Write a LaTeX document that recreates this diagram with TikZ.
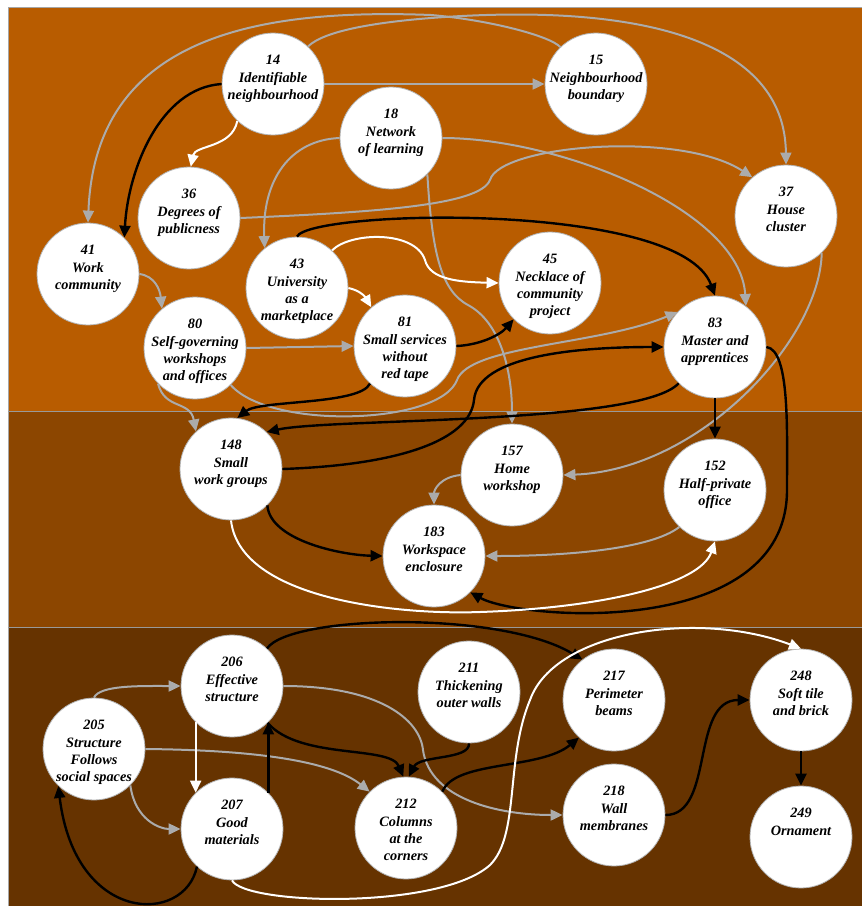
\documentclass[tikz,border=0pt]{standalone}
\usepackage{fontspec}
\setmainfont{Liberation Serif}
\usetikzlibrary{arrows.meta}
\definecolor{bandtop}{HTML}{B85C00}
\definecolor{bandmid}{HTML}{8C4600}
\definecolor{bandlow}{HTML}{663300}
\definecolor{linkgray}{HTML}{ABABAB}
\newcommand{\pttext}[2]{\makebox[0pt]{\raisebox{19.3pt}[0pt][0pt]{\parbox[t]{110pt}{\centering #1\\#2}}}}

\begin{document}
\begin{tikzpicture}[x=1pt,y=-1pt,
    pnode/.style={circle,fill=white,draw=gray!60,line width=0.8pt,minimum size=102pt,inner sep=0pt,
                  font=\fontsize{14.3}{17.4}\selectfont\bfseries\itshape},
    glink/.style={draw=linkgray,line width=2pt,-{Triangle[length=12pt,width=11pt]}},
    blink/.style={draw=black,line width=2.4pt,-{Triangle[length=12pt,width=11pt]}},
    wlink/.style={draw=white,line width=2pt,-{Triangle[length=12pt,width=11pt]}}]
                    \useasboundingbox (0,0) rectangle (862,906);
                    % the three bands
                    \fill[bandtop] (8,7)   rectangle (862,411);
                    \fill[bandmid] (8,411) rectangle (862,627);
                    \fill[bandlow] (8,627) rectangle (862,906);
                    \draw[gray!70,line width=0.7pt] (8,906) -- (8,7) -- (862,7);
                    \draw[gray!80,line width=0.6pt] (8,411) -- (862,411);
                    \draw[gray!80,line width=0.6pt] (8,627) -- (862,627);
                    % top band patterns
                    \node[pnode] at (273,84)  (n14)  {\pttext{14}{Identifiable\\neighbourhood}};
                    \node[pnode] at (596,84)  (n15)  {\pttext{15}{Neighbourhood\\boundary}};
                    \node[pnode] at (391,138) (n18)  {\pttext{18}{Network\\of learning}};
                    \node[pnode] at (189,218) (n36)  {\pttext{36}{Degrees of\\publicness}};
                    \node[pnode] at (786,216) (n37)  {\pttext{37}{House\\cluster}};
                    \node[pnode] at (88,274)  (n41)  {\pttext{41}{Work\\community}};
                    \node[pnode] at (297,288) (n43)  {\pttext{43}{University\\as a\\marketplace}};
                    \node[pnode] at (550,283) (n45)  {\pttext{45}{Necklace of\\community\\project}};
                    \node[pnode] at (195,348) (n80)  {\pttext{80}{Self-governing\\workshops\\and offices}};
                    \node[pnode] at (405,346) (n81)  {\pttext{81}{Small services\\without\\red tape}};
                    \node[pnode] at (715,347) (n83)  {\pttext{83}{Master and\\apprentices}};
                    % middle band patterns
                    \node[pnode] at (231,469) (n148) {\pttext{148}{Small\\work groups}};
                    \node[pnode] at (512,475) (n157) {\pttext{157}{Home\\workshop}};
                    \node[pnode] at (715,490) (n152) {\pttext{152}{Half-private\\office}};
                    \node[pnode] at (434,556) (n183) {\pttext{183}{Workspace\\enclosure}};
                    % bottom band patterns
                    \node[pnode] at (94,749)  (n205) {\pttext{205}{Structure\\Follows\\social spaces}};
                    \node[pnode] at (232,686) (n206) {\pttext{206}{Effective\\structure}};
                    \node[pnode] at (232,829) (n207) {\pttext{207}{Good\\materials}};
                    \node[pnode] at (469,692) (n211) {\pttext{211}{Thickening\\outer walls}};
                    \node[pnode] at (406,828) (n212) {\pttext{212}{Columns\\at the\\corners}};
                    \node[pnode] at (614,700) (n217) {\pttext{217}{Perimeter\\beams}};
                    \node[pnode] at (614,815) (n218) {\pttext{218}{Wall\\membranes}};
                    \node[pnode] at (801,700) (n248) {\pttext{248}{Soft tile\\and brick}};
                    \node[pnode] at (801,837) (n249) {\pttext{249}{Ornament}};
                    % gray links, top band
                    \draw[glink] (n15.134) .. controls (550,36) and (490,20) .. (431,15)
                                 .. controls (250,8) and (95,40) .. (n41.north);
                    \draw[glink] (n14.47) .. controls (325,30) and (380,22) .. (431,18)
                                 .. controls (640,2) and (785,40) .. (n37.north);
                    \draw[glink] (n14.east) -- (n15.west);
                    \draw[glink] (n18.west) .. controls (290,140) and (262,180) .. (n43.129);
                    \draw[glink] (n18.east) .. controls (560,138) and (740,210) .. (n83.53);
                    \draw[glink] (n18.-45) .. controls (432,250) and (440,290) .. (468,305)
                                 .. controls (500,322) and (512,370) .. (n157.north);
                    \draw[glink] (n36.east) .. controls (380,212) and (480,205) .. (490,180)
                                 .. controls (500,145) and (680,130) .. (n37.131);
                    \draw[glink] (n41.east) .. controls (155,276) and (160,290) .. (n80.130);
                    \draw[glink] (n80.east) -- (n81.west);
                    \draw[glink] (n80.-136) .. controls (165,410) and (190,400) .. (n148.133);
                    \draw[glink] (n80.-46) .. controls (270,430) and (440,425) .. (457,380)
                                 .. controls (470,345) and (600,345) .. (n83.137);
                    \draw[glink] (n37.-46) .. controls (820,340) and (700,470) .. (n157.east);
                    % gray links, middle band
                    \draw[glink] (n157.west) .. controls (440,477) and (434,490) .. (n183.north);
                    \draw[glink] (n152.-134) .. controls (650,550) and (560,556) .. (n183.east);
                    % gray links, bottom band
                    \draw[glink] (n205.north) .. controls (100,685) and (140,686) .. (n206.west);
                    \draw[glink] (n205.east) .. controls (250,750) and (330,760) .. (n212.135);
                    \draw[glink] (n205.-45) .. controls (135,820) and (160,829) .. (n207.west);
                    \draw[glink] (n206.east) .. controls (380,686) and (420,720) .. (423,750)
                                 .. controls (430,800) and (500,815) .. (n218.west);
                    % black links
                    \draw[blink] (n14.west) .. controls (160,88) and (128,170) .. (n41.45);
                    \draw[blink] (n43.north) .. controls (310,210) and (680,200) .. (n83.north);
                    \draw[blink] (n81.east) .. controls (480,345) and (500,335) .. (n45.-135);
                    \draw[blink] (n81.-133) .. controls (360,405) and (260,400) .. (n148.83);
                    \draw[blink] (n83.-135) .. controls (640,425) and (330,418) .. (n148.46);
                    \draw[blink] (n148.east) .. controls (400,465) and (470,440) .. (474,400)
                                 .. controls (478,355) and (580,347) .. (n83.west);
                    \draw[blink] (n83.south) -- (n152.north);
                    \draw[blink] (n83.east) .. controls (790,350) and (787,430) .. (787,490)
                                 .. controls (787,640) and (520,620) .. (n183.-45);
                    \draw[blink] (n148.-45) .. controls (270,540) and (340,555) .. (n183.west);
                    \draw[blink] (n206.47) .. controls (290,615) and (500,610) .. (n217.128);
                    \draw[blink] (n206.-46) .. controls (300,760) and (390,745) .. (n212.93);
                    \draw[blink] (n207.45) -- (n206.-45);
                    \draw[blink] (n211.south) .. controls (470,760) and (420,755) .. (n212.87);
                    \draw[blink] (n212.45) .. controls (455,760) and (540,770) .. (n217.-133);
                    \draw[blink] (n207.-133) .. controls (185,925) and (75,925) .. (n205.-134);
                    \draw[blink] (n218.east) .. controls (715,815) and (690,700) .. (n248.west);
                    \draw[blink] (n248.south) -- (n249.north);
                    % white links
                    \draw[wlink] (n14.-134) .. controls (232,148) and (195,145) .. (n36.88);
                    \draw[wlink] (n43.47) .. controls (350,232) and (415,230) .. (425,260)
                                 .. controls (430,280) and (460,282) .. (n45.west);
                    \draw[wlink] (n43.east) .. controls (358,290) and (364,295) .. (n81.131);
                    \draw[wlink] (n148.south) .. controls (240,600) and (400,615) .. (480,612)
                                 .. controls (600,608) and (700,585) .. (n152.south);
                    \draw[wlink] (n206.-135) -- (n207.135);
                    \draw[wlink] (n207.south) .. controls (245,905) and (440,910) .. (490,865)
                                 .. controls (520,835) and (505,760) .. (530,700)
                                 .. controls (555,630) and (700,610) .. (n248.north);
                \end{tikzpicture}
\end{document}
